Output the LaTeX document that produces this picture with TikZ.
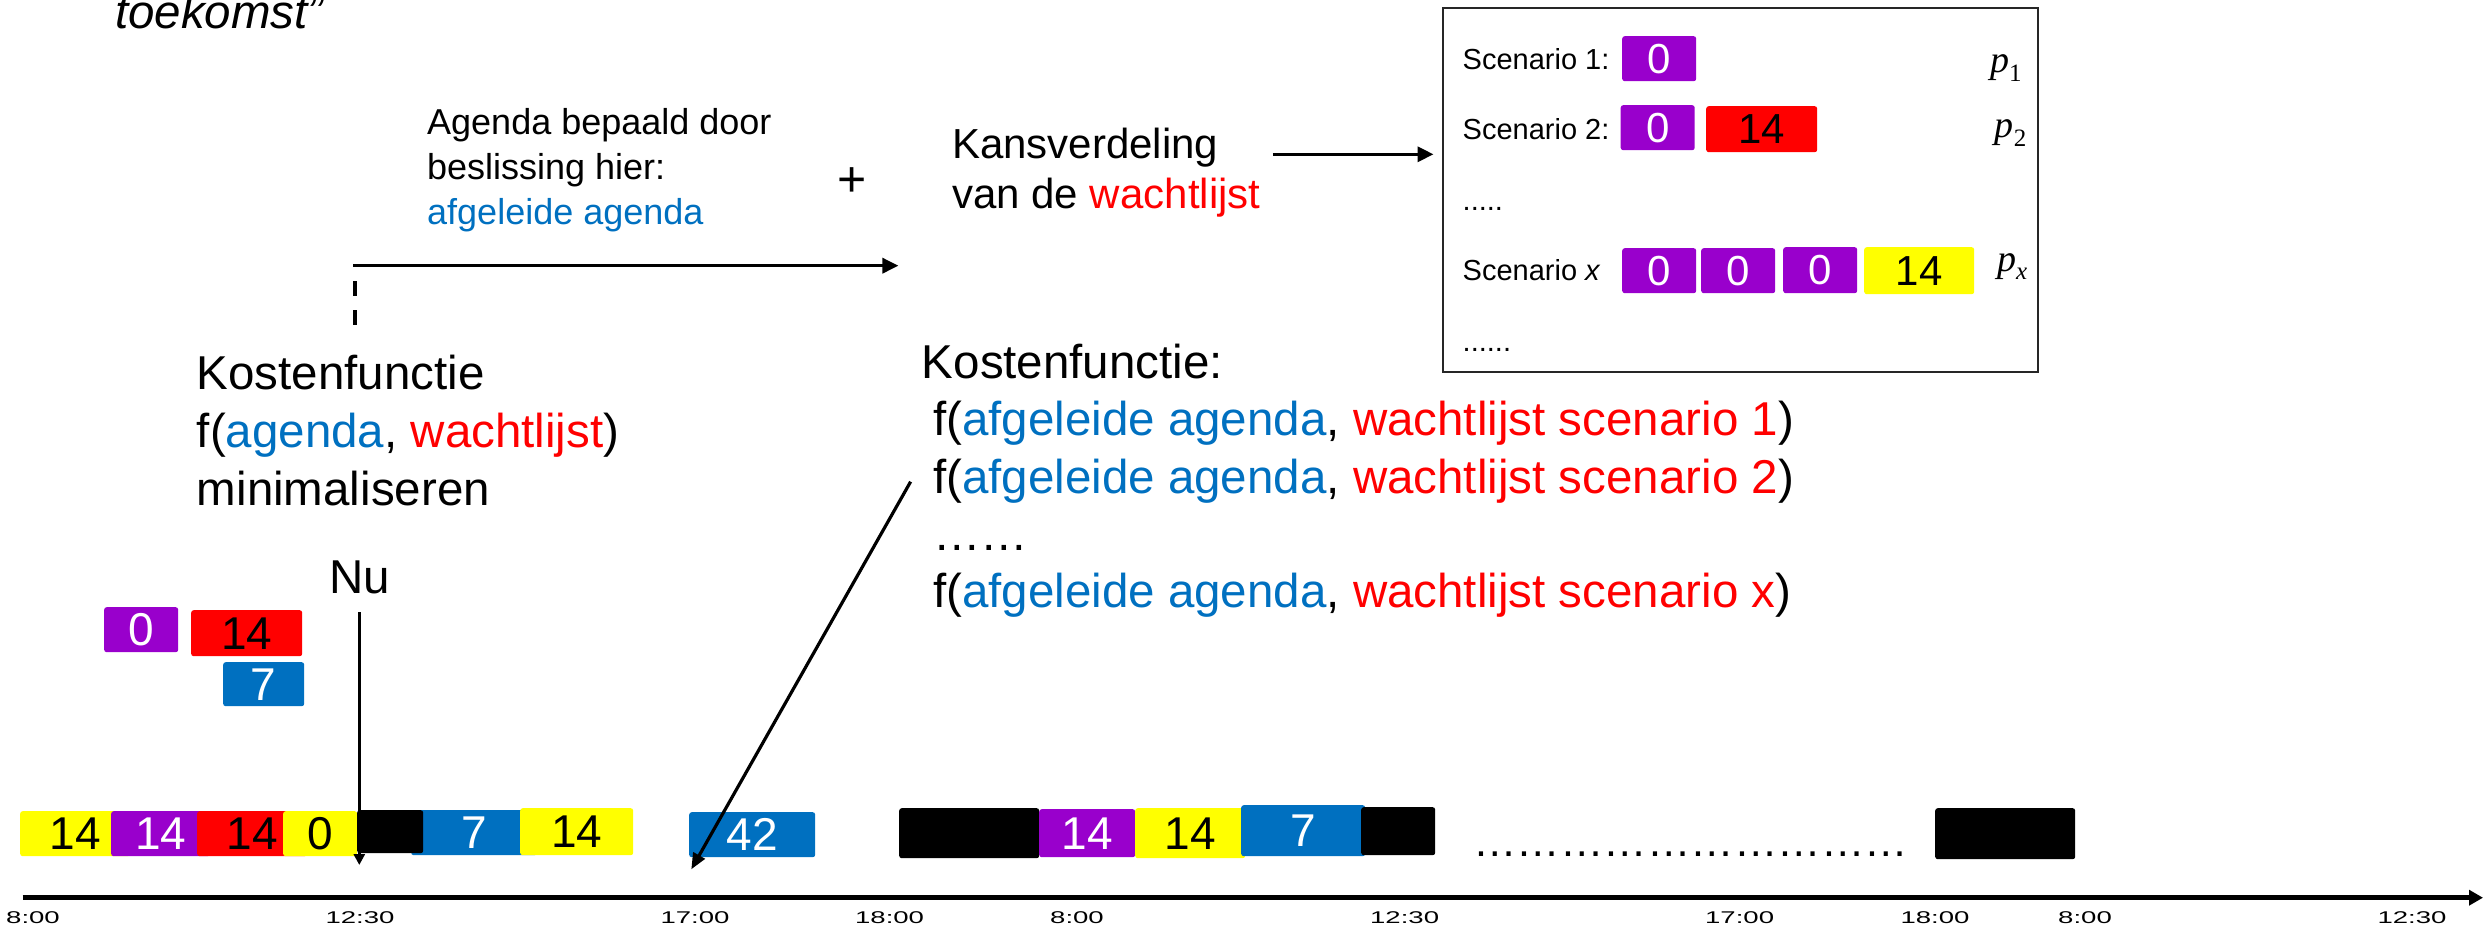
\documentclass[tikz,border=0pt]{standalone}
\usepackage{fontspec}
\setmainfont{Liberation Sans}
\newfontfamily\pfont{Liberation Serif}
\usepackage{graphicx}
\usetikzlibrary{arrows.meta}
\definecolor{cpurple}{HTML}{9900CC}
\definecolor{cred}{HTML}{FF0000}
\definecolor{cblue}{HTML}{0070C0}
\definecolor{cyellow}{HTML}{FFFF00}
\definecolor{boxgray}{HTML}{262626}
\newcommand\setfs[1]{\fontsize{#1}{#1}\selectfont}
\newcommand\axl[1]{\scalebox{1.62}[1]{#1}}
\newcommand\plabel[1]{{\pfont\itshape p}\raisebox{-0.22em}{\pfont\setfs{25}#1}}
\begin{document}
\begin{tikzpicture}[x=1pt,y=-1pt,
  txt/.style={inner sep=0pt, anchor=base west},
  big/.style={txt, font=\setfs{47.5}},
  mid/.style={txt, font=\setfs{36}},
  kans/.style={txt, font=\setfs{42}},
  small/.style={txt, font=\setfs{29}},
  plab/.style={txt, font=\setfs{38}},
  axlab/.style={inner sep=0pt, anchor=base, font=\setfs{17}},
  tb/.style={rounded corners=2.5pt, inner sep=0pt, anchor=north west, font=\setfs{46}},
  sb/.style={tb, font=\setfs{42}},
  pu/.style={fill=cpurple, text=white},
  re/.style={fill=cred, text=black},
  bl/.style={fill=cblue, text=white},
  ye/.style={fill=cyellow, text=black},
  bk/.style={fill=black},
  arr/.style={line width=3.4pt, -{Triangle[length=16pt,width=15pt]}},
]
\useasboundingbox (0,0) rectangle (2483,928);

% ---------- top texts ----------
\node[big, font=\setfs{47.5}\itshape] (toek) at (115,28.3) {toekomst”};
\node[mid] (ag1) at (427,134.3) {Agenda bepaald door};
\node[mid] (ag2) at (427,180) {beslissing hier:};
\node[mid, text=cblue] (ag3) at (427,225) {afgeleide agenda};
\node[inner sep=0pt, font=\setfs{50}] (plus) at (852,182) {+};
\node[kans] (kv1) at (952,158.3) {Kansverdeling};
\node[kans] (kv2) at (952,208.3) {van de \textcolor{cred}{wachtlijst}};

% ---------- scenario box ----------
\node[draw=boxgray, line width=2pt, inner sep=0pt, anchor=north west,
      minimum width=595.5pt, minimum height=364pt] (scen) at (1441.5,7) {};
\node[small] (sc1) at (1462.5,70) {Scenario 1:};
\node[small] (sc2) at (1462.5,140) {Scenario 2:};
\node[small] (scd1) at (1462.5,210.7) {.....};
\node[small] (scx) at (1462.5,280) {Scenario \textit{x}};
\node[small] (scd2) at (1462.5,351.7) {......};
\node[plab] (p1) at (1990,73) {\plabel{1}};
\node[plab] (p2) at (1994.6,138) {\plabel{2}};
\node[plab] (px) at (1997,271) {\plabel{\itshape x}};
\node[sb, pu, minimum width=74pt, minimum height=45pt] (s1a) at (1622,36) {0};
\node[sb, pu, minimum width=74pt, minimum height=45pt] (s2a) at (1620.5,105) {0};
\node[sb, re, minimum width=111pt, minimum height=46pt] (s2b) at (1706,106) {14};
\node[sb, pu, minimum width=74pt, minimum height=45pt] (sxa) at (1622,248) {0};
\node[sb, pu, minimum width=74pt, minimum height=45pt] (sxb) at (1701,248) {0};
\node[sb, pu, minimum width=74pt, minimum height=46pt] (sxc) at (1783,247) {0};
\node[sb, ye, minimum width=110pt, minimum height=47pt] (sxd) at (1864,247) {14};

% ---------- cost function texts ----------
\node[big] (kl1) at (196.7,389) {Kostenfunctie};
\node[big] (kl2) at (196.7,447) {f(\textcolor{cblue}{agenda}, \textcolor{cred}{wachtlijst})};
\node[big] (kl3) at (196.7,505) {minimaliseren};
\node[big] (kr0) at (921.7,378.3) {Kostenfunctie:};
\node[big] (kr1) at (933,435) {f(\textcolor{cblue}{afgeleide agenda}, \textcolor{cred}{wachtlijst scenario 1})};
\node[big] (kr2) at (933,493) {f(\textcolor{cblue}{afgeleide agenda}, \textcolor{cred}{wachtlijst scenario 2})};
\node[big] (krd) at (933,550) {……};
\node[big] (krx) at (933,607) {f(\textcolor{cblue}{afgeleide agenda}, \textcolor{cred}{wachtlijst scenario x})};
\node[big] (nu) at (329.5,593) {Nu};

% ---------- waiting list ----------
\node[tb, pu, minimum width=74pt, minimum height=45pt] (wl1) at (104,607) {0};
\node[tb, re, minimum width=111pt, minimum height=46pt] (wl2) at (191,610) {14};
\node[tb, bl, minimum width=81pt, minimum height=44pt] (wl3) at (223,662) {7};

% ---------- timeline blocks ----------
\node[tb, ye, minimum width=110pt, minimum height=45pt] (d1a) at (20,811) {14};
\node[tb, pu, minimum width=99pt, minimum height=45pt] (d1b) at (111,811) {14};
\node[tb, re, minimum width=110pt, minimum height=45pt] (d1c) at (197,811) {14};
\node[tb, ye, minimum width=74pt, minimum height=45pt] (d1d) at (283,811) {0};
\node[tb, bl, minimum width=126pt, minimum height=45pt] (d1e) at (411,810) {7};
\node[tb, ye, minimum width=113pt, minimum height=47pt] (d1f) at (520,808) {14};
\node[tb, bk, minimum width=66pt, minimum height=43pt] (d1g) at (357,810) {};
\node[tb, bl, minimum width=126pt, minimum height=45pt] (d1h) at (689,812) {42};
\node[tb, bk, minimum width=140pt, minimum height=50pt] (d2a) at (899,808) {};
\node[tb, pu, minimum width=96pt, minimum height=48pt] (d2b) at (1039,809) {14};
\node[tb, ye, minimum width=110pt, minimum height=50pt] (d2c) at (1135,808) {14};
\node[tb, bl, minimum width=124pt, minimum height=51pt] (d2d) at (1241,805) {7};
\node[tb, bk, minimum width=74pt, minimum height=48pt] (d2e) at (1361,807) {};
\node[txt, font=\setfs{43.5}] (tdots) at (1473,856) {…………………………};
\node[tb, bk, minimum width=140pt, minimum height=51pt] (d2f) at (1935,808) {};

% ---------- axis labels ----------
\node[axlab] (t1) at (33,923) {\axl{8:00}};
\node[axlab] (t2) at (360,923) {\axl{12:30}};
\node[axlab] (t3) at (695,923) {\axl{17:00}};
\node[axlab] (t4) at (889.6,923) {\axl{18:00}};
\node[axlab] (t5) at (1077,923) {\axl{8:00}};
\node[axlab] (t6) at (1404.6,923) {\axl{12:30}};
\node[axlab] (t7) at (1739.6,923) {\axl{17:00}};
\node[axlab] (t8) at (1935,923) {\axl{18:00}};
\node[axlab] (t9) at (2085,923) {\axl{8:00}};
\node[axlab] (t10) at (2412,923) {\axl{12:30}};

% ---------- connectors ----------
\coordinate (axS) at (22.7,897.7);
\coordinate (axE) at (2483,897.7);
\draw[line width=4.5pt, -{Triangle[length=14pt,width=15pt]}] (axS) -- (axE);

\coordinate (taS) at (353,265.7);
\coordinate (taE) at (898.4,265.7);
\draw[arr] (taS) -- (taE);

\coordinate (dsS) at (354.8,281);
\coordinate (dsE) at (354.8,324.5);
\draw[line width=3.5pt, dash pattern=on 14.7pt off 14.3pt] (dsS) -- (dsE);

\coordinate (kaS) at (1272.8,154.3);
\coordinate (kaE) at (1433.5,154.3);
\draw[arr] (kaS) -- (kaE);

\coordinate (diS) at (910.6,481.7);
\coordinate (diE) at (691.3,869.3);
\draw[line width=3.2pt, -{Triangle[length=16pt,width=13pt]}] (diS) -- (diE);

\coordinate (nuS) at (359.3,612);
\coordinate (nuE) at (359.3,865);
\draw[line width=2.8pt, -{Triangle[length=11pt,width=11pt]}] (nuS) -- (nuE);
\end{tikzpicture}
\end{document}
